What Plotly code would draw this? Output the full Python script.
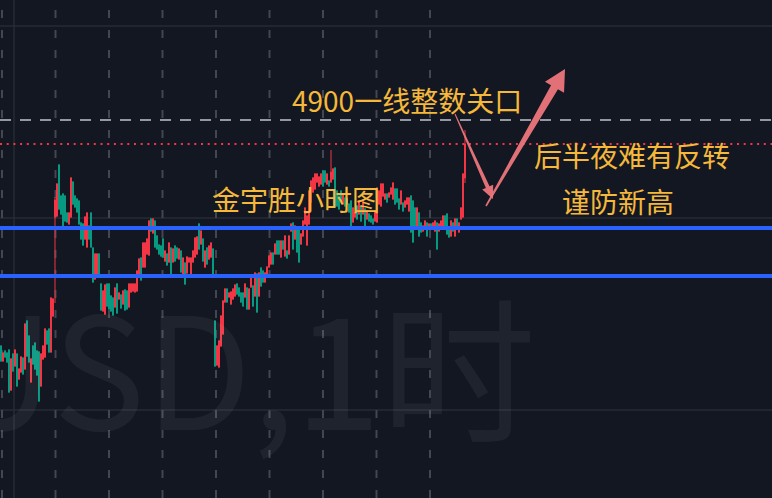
import math
import plotly.graph_objects as go

# ---------------- data (XAUUSD 1h) ----------------
opens = [
    4674, 4659, 4669, 4667, 4670, 4630, 4666, 4654, 4666, 4641,
    4648, 4662, 4651, 4699, 4684, 4638, 4674, 4677, 4669, 4668,
    4634, 4661, 4663, 4689, 4691, 4668, 4704, 4803, 4804, 4855,
    4824, 4826, 4824, 4807, 4796, 4803, 4838, 4824, 4821, 4819,
    4797, 4796, 4781, 4773, 4794, 4807, 4772, 4741, 4746, 4766,
    4736, 4709, 4706, 4736, 4736, 4724, 4722, 4713, 4736, 4721,
    4725, 4716, 4730, 4729, 4713, 4728, 4729, 4728, 4729, 4744,
    4762, 4753, 4753, 4766, 4765, 4801, 4787, 4799, 4784, 4775,
    4774, 4781, 4759, 4766, 4758, 4772, 4758, 4774, 4772, 4761,
    4769, 4746, 4757, 4747, 4758, 4746, 4758, 4763, 4766, 4796,
    4776, 4781, 4753, 4772, 4761, 4763, 4771, 4699, 4655, 4653,
    4674, 4686, 4718, 4731, 4723, 4716, 4721, 4724, 4736, 4732,
    4727, 4727, 4723, 4732, 4711, 4733, 4734, 4724, 4746, 4724,
    4752, 4749, 4738, 4744, 4753, 4756, 4767, 4766, 4779, 4779,
    4763, 4779, 4764, 4769, 4766, 4789, 4797, 4781, 4791, 4791,
    4776, 4784, 4796, 4775, 4796, 4818, 4828, 4831, 4838, 4834,
    4836, 4849, 4849, 4836, 4839, 4838, 4841, 4852, 4829, 4824,
    4829, 4816, 4822, 4821, 4816, 4819, 4798, 4803, 4814, 4806,
    4814, 4806, 4811, 4801, 4806, 4804, 4801, 4799, 4798, 4816,
    4814, 4824, 4821, 4826, 4823, 4826, 4821, 4831, 4831, 4821,
    4816, 4817, 4813, 4816, 4809, 4824, 4819, 4812, 4791, 4807,
    4797, 4789, 4794, 4797, 4793, 4796, 4793, 4789, 4797, 4789,
    4791, 4791, 4804, 4806, 4791, 4784, 4797, 4784, 4801, 4788,
    4801, 4803, 4842,
]
highs = [
    4675, 4668, 4670, 4668, 4671, 4662, 4667, 4671, 4667, 4652,
    4664, 4663, 4697, 4700, 4685, 4662, 4675, 4678, 4670, 4669,
    4667, 4675, 4692, 4690, 4692, 4723, 4722, 4823, 4837, 4856,
    4825, 4827, 4825, 4808, 4808, 4843, 4839, 4825, 4822, 4820,
    4798, 4797, 4804, 4808, 4795, 4808, 4773, 4767, 4767, 4767,
    4737, 4730, 4736, 4737, 4737, 4725, 4723, 4733, 4737, 4728,
    4726, 4730, 4731, 4730, 4737, 4737, 4737, 4737, 4750, 4762,
    4763, 4778, 4778, 4782, 4800, 4802, 4802, 4800, 4785, 4776,
    4775, 4782, 4770, 4767, 4778, 4773, 4772, 4775, 4773, 4772,
    4770, 4763, 4758, 4764, 4763, 4763, 4770, 4783, 4784, 4797,
    4790, 4782, 4770, 4773, 4775, 4778, 4772, 4700, 4675, 4680,
    4705, 4720, 4732, 4732, 4728, 4729, 4732, 4736, 4737, 4733,
    4728, 4728, 4737, 4733, 4732, 4744, 4735, 4748, 4747, 4748,
    4753, 4750, 4748, 4754, 4765, 4768, 4768, 4777, 4780, 4780,
    4780, 4780, 4785, 4770, 4785, 4797, 4798, 4795, 4792, 4792,
    4787, 4800, 4813, 4805, 4830, 4840, 4843, 4847, 4847, 4844,
    4847, 4850, 4850, 4847, 4840, 4870, 4852, 4853, 4830, 4825,
    4830, 4827, 4823, 4822, 4817, 4820, 4813, 4808, 4815, 4820,
    4815, 4820, 4812, 4810, 4807, 4805, 4802, 4810, 4833, 4830,
    4837, 4837, 4827, 4827, 4828, 4833, 4838, 4832, 4832, 4822,
    4830, 4818, 4820, 4823, 4823, 4825, 4820, 4813, 4813, 4808,
    4798, 4795, 4800, 4798, 4797, 4797, 4798, 4800, 4798, 4797,
    4800, 4805, 4805, 4807, 4792, 4800, 4798, 4802, 4802, 4798,
    4813, 4847, 4890,
]
lows = [
    4658, 4658, 4662, 4657, 4627, 4629, 4648, 4653, 4633, 4640,
    4647, 4645, 4650, 4663, 4657, 4637, 4655, 4650, 4644, 4618,
    4633, 4660, 4662, 4675, 4667, 4667, 4703, 4717, 4803, 4810,
    4805, 4792, 4798, 4797, 4795, 4802, 4815, 4812, 4807, 4795,
    4780, 4774, 4780, 4772, 4780, 4772, 4737, 4740, 4745, 4742,
    4709, 4708, 4705, 4713, 4710, 4708, 4704, 4712, 4706, 4720,
    4711, 4715, 4709, 4710, 4712, 4727, 4728, 4727, 4728, 4743,
    4739, 4752, 4752, 4765, 4764, 4788, 4786, 4772, 4770, 4765,
    4763, 4762, 4758, 4754, 4757, 4745, 4757, 4758, 4761, 4760,
    4747, 4745, 4735, 4746, 4757, 4745, 4757, 4762, 4765, 4770,
    4775, 4758, 4752, 4755, 4760, 4762, 4745, 4653, 4654, 4652,
    4673, 4685, 4717, 4717, 4722, 4715, 4720, 4723, 4725, 4723,
    4717, 4713, 4722, 4710, 4710, 4732, 4713, 4723, 4707, 4723,
    4733, 4737, 4737, 4743, 4752, 4755, 4755, 4765, 4765, 4765,
    4762, 4770, 4763, 4761, 4765, 4788, 4770, 4780, 4767, 4757,
    4775, 4783, 4795, 4774, 4795, 4817, 4827, 4830, 4837, 4833,
    4835, 4833, 4837, 4835, 4833, 4837, 4840, 4812, 4813, 4810,
    4817, 4815, 4813, 4815, 4807, 4792, 4797, 4802, 4800, 4805,
    4798, 4805, 4790, 4800, 4798, 4797, 4795, 4798, 4797, 4815,
    4813, 4823, 4820, 4817, 4822, 4825, 4820, 4815, 4817, 4810,
    4815, 4808, 4812, 4815, 4808, 4787, 4777, 4792, 4790, 4783,
    4787, 4788, 4793, 4783, 4792, 4793, 4792, 4788, 4770, 4788,
    4790, 4790, 4793, 4785, 4782, 4783, 4788, 4783, 4793, 4787,
    4800, 4802, 4837,
]
closes = [
    4659, 4667, 4663, 4658, 4628, 4661, 4649, 4670, 4634, 4651,
    4663, 4646, 4696, 4664, 4658, 4661, 4656, 4651, 4645, 4619,
    4666, 4674, 4691, 4676, 4668, 4722, 4721, 4820, 4836, 4811,
    4806, 4793, 4799, 4798, 4807, 4842, 4816, 4813, 4808, 4796,
    4781, 4775, 4803, 4807, 4781, 4773, 4738, 4766, 4766, 4743,
    4710, 4729, 4735, 4714, 4711, 4709, 4705, 4732, 4707, 4727,
    4712, 4729, 4710, 4711, 4736, 4736, 4736, 4736, 4749, 4761,
    4740, 4777, 4777, 4781, 4799, 4789, 4801, 4773, 4771, 4766,
    4764, 4763, 4769, 4755, 4777, 4746, 4771, 4759, 4762, 4771,
    4748, 4762, 4736, 4763, 4762, 4762, 4769, 4782, 4783, 4771,
    4789, 4759, 4769, 4756, 4774, 4777, 4746, 4654, 4674, 4679,
    4704, 4719, 4731, 4718, 4727, 4728, 4731, 4735, 4726, 4724,
    4718, 4714, 4736, 4711, 4731, 4743, 4714, 4747, 4708, 4747,
    4734, 4738, 4747, 4753, 4764, 4767, 4756, 4776, 4766, 4766,
    4779, 4771, 4784, 4762, 4784, 4796, 4771, 4794, 4768, 4758,
    4786, 4799, 4812, 4804, 4829, 4839, 4842, 4846, 4846, 4843,
    4846, 4834, 4838, 4846, 4834, 4848, 4851, 4813, 4814, 4811,
    4818, 4826, 4814, 4816, 4808, 4793, 4812, 4807, 4801, 4819,
    4799, 4819, 4791, 4809, 4799, 4798, 4796, 4809, 4832, 4829,
    4836, 4836, 4826, 4818, 4827, 4832, 4837, 4816, 4818, 4811,
    4829, 4809, 4819, 4822, 4822, 4788, 4778, 4793, 4812, 4784,
    4788, 4794, 4799, 4784, 4796, 4794, 4797, 4799, 4771, 4796,
    4799, 4804, 4794, 4786, 4783, 4799, 4789, 4801, 4794, 4797,
    4812, 4846, 4876,
]
hours = list(range(len(closes)))

support_levels = [4792, 4744]          # blue horizontal lines
round_level = 4900                     # 4900 integer level
grid_levels = [4994, 4802, 4610]       # faint horizontal grid
session_breaks = [0.5, 27.25, 54, 80.75, 107.5, 134.25, 161, 187.75, 214.5]
cursor_x = 6.5

symbol_watermark = "XAUUSD,1时"
label_level = "4900一线整数关口"
label_title = "金宇胜小时图"
label_view1 = "后半夜难有反转"
label_view2 = "谨防新高"

assert len(opens) == len(highs) == len(lows) == len(closes)

# ---------------- figure ----------------
W, H = 772, 498
BG = "#131722"
UP = "#f23645"
DOWN = "#089981"
GOLD = "#f5b83a"
ARROW = "rgba(236,118,124,0.95)"
FONT = "Noto Sans CJK SC"


def paper(x, y):
    return x / W, 1 - y / H


def arrow_path(x0, y0, x1, y1, w0, w1, head_len, head_w):
    dx, dy = x1 - x0, y1 - y0
    L = math.hypot(dx, dy)
    ux, uy = dx / L, dy / L
    nx, ny = -uy, ux
    bx, by = x1 - ux * head_len, y1 - uy * head_len
    pts = [
        (x0 + nx * w0 / 2, y0 + ny * w0 / 2),
        (bx + nx * w1 / 2, by + ny * w1 / 2),
        (bx + nx * head_w / 2, by + ny * head_w / 2),
        (x1, y1),
        (bx - nx * head_w / 2, by - ny * head_w / 2),
        (bx - nx * w1 / 2, by - ny * w1 / 2),
        (x0 - nx * w0 / 2, y0 - ny * w0 / 2),
    ]
    parts = []
    for i, (px_, py_) in enumerate(pts):
        a, b = paper(px_, py_)
        parts.append(("M" if i == 0 else "L") + f"{a:.5f},{b:.5f}")
    return " ".join(parts) + " Z"


fig = go.Figure()
fig.add_trace(go.Candlestick(
    x=hours, open=opens, high=highs, low=lows, close=closes,
    increasing=dict(line=dict(color=UP, width=1), fillcolor=UP),
    decreasing=dict(line=dict(color=DOWN, width=1), fillcolor=DOWN),
    whiskerwidth=0,
    hoverinfo="skip",
))

shapes = []
for g in grid_levels:
    shapes.append(dict(type="line", xref="paper", x0=0, x1=1, yref="y", y0=g, y1=g,
                       line=dict(color="#272b36", width=1.5), layer="below"))
shapes.append(dict(type="line", xref="x", x0=cursor_x, x1=cursor_x, yref="paper", y0=0, y1=1,
                   line=dict(color="#272b36", width=1.5), layer="below"))
for b in session_breaks:
    shapes.append(dict(type="line", xref="x", x0=b, x1=b, yref="paper", y0=0, y1=1,
                       line=dict(color="#434651", width=2, dash="8px,12px"), layer="below"))
for s in support_levels:
    shapes.append(dict(type="line", xref="paper", x0=0, x1=1, yref="y", y0=s, y1=s,
                       line=dict(color="#2962ff", width=4), layer="above"))
shapes.append(dict(type="line", xref="paper", x0=0, x1=1, yref="y", y0=round_level, y1=round_level,
                   line=dict(color="#9598a1", width=2, dash="11px,9px"), layer="above"))
shapes.append(dict(type="line", xref="paper", x0=0, x1=1, yref="y", y0=closes[-1], y1=closes[-1],
                   line=dict(color=UP, width=2, dash="2px,4.7px"), layer="above"))
# annotation arrows
shapes.append(dict(type="path", xref="paper", yref="paper",
                   path=arrow_path(455, 114, 493, 199, 1.0, 4.0, 13, 12),
                   fillcolor=ARROW, line=dict(width=0), layer="above"))
shapes.append(dict(type="path", xref="paper", yref="paper",
                   path=arrow_path(486, 206, 565, 69, 1.5, 8.0, 21, 22),
                   fillcolor=ARROW, line=dict(width=0), layer="above"))

annotations = []
wx, wy = paper(538, 362)
annotations.append(dict(text=symbol_watermark, xref="paper", yref="paper", x=wx, y=wy,
                        xanchor="right", yanchor="middle", showarrow=False,
                        font=dict(family=FONT, size=155, color="rgba(255,255,255,0.055)")))
for text, (cx, cy) in [(label_level, (407, 100)), (label_title, (296, 199)),
                       (label_view1, (632, 155)), (label_view2, (618, 201))]:
    ax_, ay_ = paper(cx, cy)
    annotations.append(dict(text=text, xref="paper", yref="paper", x=ax_, y=ay_,
                            xanchor="center", yanchor="middle", showarrow=False,
                            font=dict(family=FONT, size=28, color=GOLD)))

fig.update_layout(
    width=W, height=H,
    margin=dict(l=0, r=0, t=0, b=0),
    paper_bgcolor=BG, plot_bgcolor=BG,
    showlegend=False,
    xaxis=dict(visible=False, range=[-0.5, 385.5], rangeslider=dict(visible=False), fixedrange=True),
    yaxis=dict(visible=False, range=[4522, 5020], fixedrange=True),
    shapes=shapes,
    annotations=annotations,
)

fig.write_html(
    "out.html",
    config={"displayModeBar": False},
    post_script="document.body.style.margin='0';document.body.style.overflow='hidden';"
                "document.body.style.background='#131722';",
)
